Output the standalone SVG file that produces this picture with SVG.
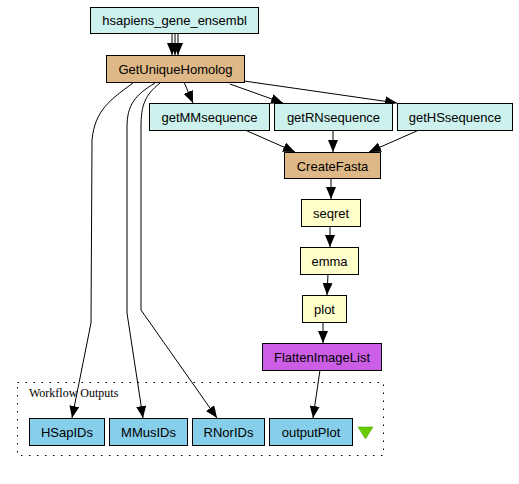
<svg xmlns="http://www.w3.org/2000/svg" width="519" height="484" viewBox="0 0 519 484">
<defs>
<marker id="ah" viewBox="0 0 12 10" refX="12" refY="5" markerWidth="12" markerHeight="10" markerUnits="userSpaceOnUse" orient="auto">
<path d="M0,0 L12,5 L0,10 z" fill="#000"/>
</marker>
</defs>
<style>
.n rect{stroke:#000;stroke-width:1}
.n text{font-family:"Liberation Sans",Arial,sans-serif;font-size:13px;fill:#000;text-anchor:middle}
.cy{fill:#cdf2ee}
.tan{fill:#deb887}
.yl{fill:#ffffcc}
.pu{fill:#cc5ee6}
.sk{fill:#87ceeb}
#edges path{fill:none;stroke:#000;stroke-width:1;marker-end:url(#ah)}
</style>
<rect width="519" height="484" fill="#fff"/>
<g id="outputs-frame">
<rect x="17.5" y="382.5" width="366" height="73" fill="none" stroke="#000" stroke-dasharray="1.5,6.5"/>
<text x="29" y="397" font-family="'Liberation Serif','Times New Roman',serif" font-size="12">Workflow Outputs</text>
</g>
<g id="edges">
<path d="M172,34 V55"/>
<path d="M175,34 V55"/>
<path d="M178,34 V55"/>
<path d="M184,82 L193,103"/>
<path d="M230,84 L283,103"/>
<path d="M244,81 L397,103"/>
<path d="M245,130 L295,152"/>
<path d="M333,130 V152"/>
<path d="M419,130 L369,152"/>
<path d="M331,178 V199"/>
<path d="M330,226 V247"/>
<path d="M328,274 L327,295"/>
<path d="M323,322 V343"/>
<path d="M320,370 L313,418"/>
<path d="M133,83 C110,100 95,110 92,140 L91,323 L72,418"/>
<path d="M155,83 C135,95 127,105 127,127 L127,313 L143,418"/>
<path d="M160,83 C145,95 141,105 141,127 L141,310 L217,418"/>
</g>
<g id="hsapiens_gene_ensembl" class="n"><rect class="cy" x="90.5" y="7.5" width="168" height="26"/><text x="174.5" y="25">hsapiens_gene_ensembl</text></g>
<g id="GetUniqueHomolog" class="n"><rect class="tan" x="106.5" y="55.5" width="138" height="27"/><text x="175.5" y="73.5">GetUniqueHomolog</text></g>
<g id="getMMsequence" class="n"><rect class="cy" x="149.5" y="103.5" width="120" height="27"/><text x="209.5" y="121.5">getMMsequence</text></g>
<g id="getRNsequence" class="n"><rect class="cy" x="274.5" y="103.5" width="118" height="27"/><text x="333.5" y="121.5">getRNsequence</text></g>
<g id="getHSsequence" class="n"><rect class="cy" x="397.5" y="103.5" width="115" height="27"/><text x="455" y="121.5">getHSsequence</text></g>
<g id="CreateFasta" class="n"><rect class="tan" x="284.5" y="152.5" width="96" height="26"/><text x="332.5" y="170.5">CreateFasta</text></g>
<g id="seqret" class="n"><rect class="yl" x="301.5" y="199.5" width="59" height="27"/><text x="331" y="217.5">seqret</text></g>
<g id="emma" class="n"><rect class="yl" x="300.5" y="247.5" width="58" height="27"/><text x="329.5" y="265.5">emma</text></g>
<g id="plot" class="n"><rect class="yl" x="302.5" y="295.5" width="44" height="27"/><text x="324.5" y="313.5">plot</text></g>
<g id="FlattenImageList" class="n"><rect class="pu" x="262.5" y="343.5" width="119" height="27"/><text x="322" y="361.5">FlattenImageList</text></g>
<g id="HSapIDs" class="n"><rect class="sk" x="29.5" y="418.5" width="75" height="27"/><text x="67" y="436.5">HSapIDs</text></g>
<g id="MMusIDs" class="n"><rect class="sk" x="109.5" y="418.5" width="78" height="27"/><text x="148.5" y="436.5">MMusIDs</text></g>
<g id="RNorIDs" class="n"><rect class="sk" x="192.5" y="418.5" width="72" height="27"/><text x="228.5" y="436.5">RNorIDs</text></g>
<g id="outputPlot" class="n"><rect class="sk" x="269.5" y="418.5" width="83" height="27"/><text x="311" y="436.5">outputPlot</text></g>
<g id="toggle"><path d="M358,427 L373,427 L365.5,439 z" fill="#66cc00" stroke="#4a9900" stroke-width="0.5"/></g>
</svg>
